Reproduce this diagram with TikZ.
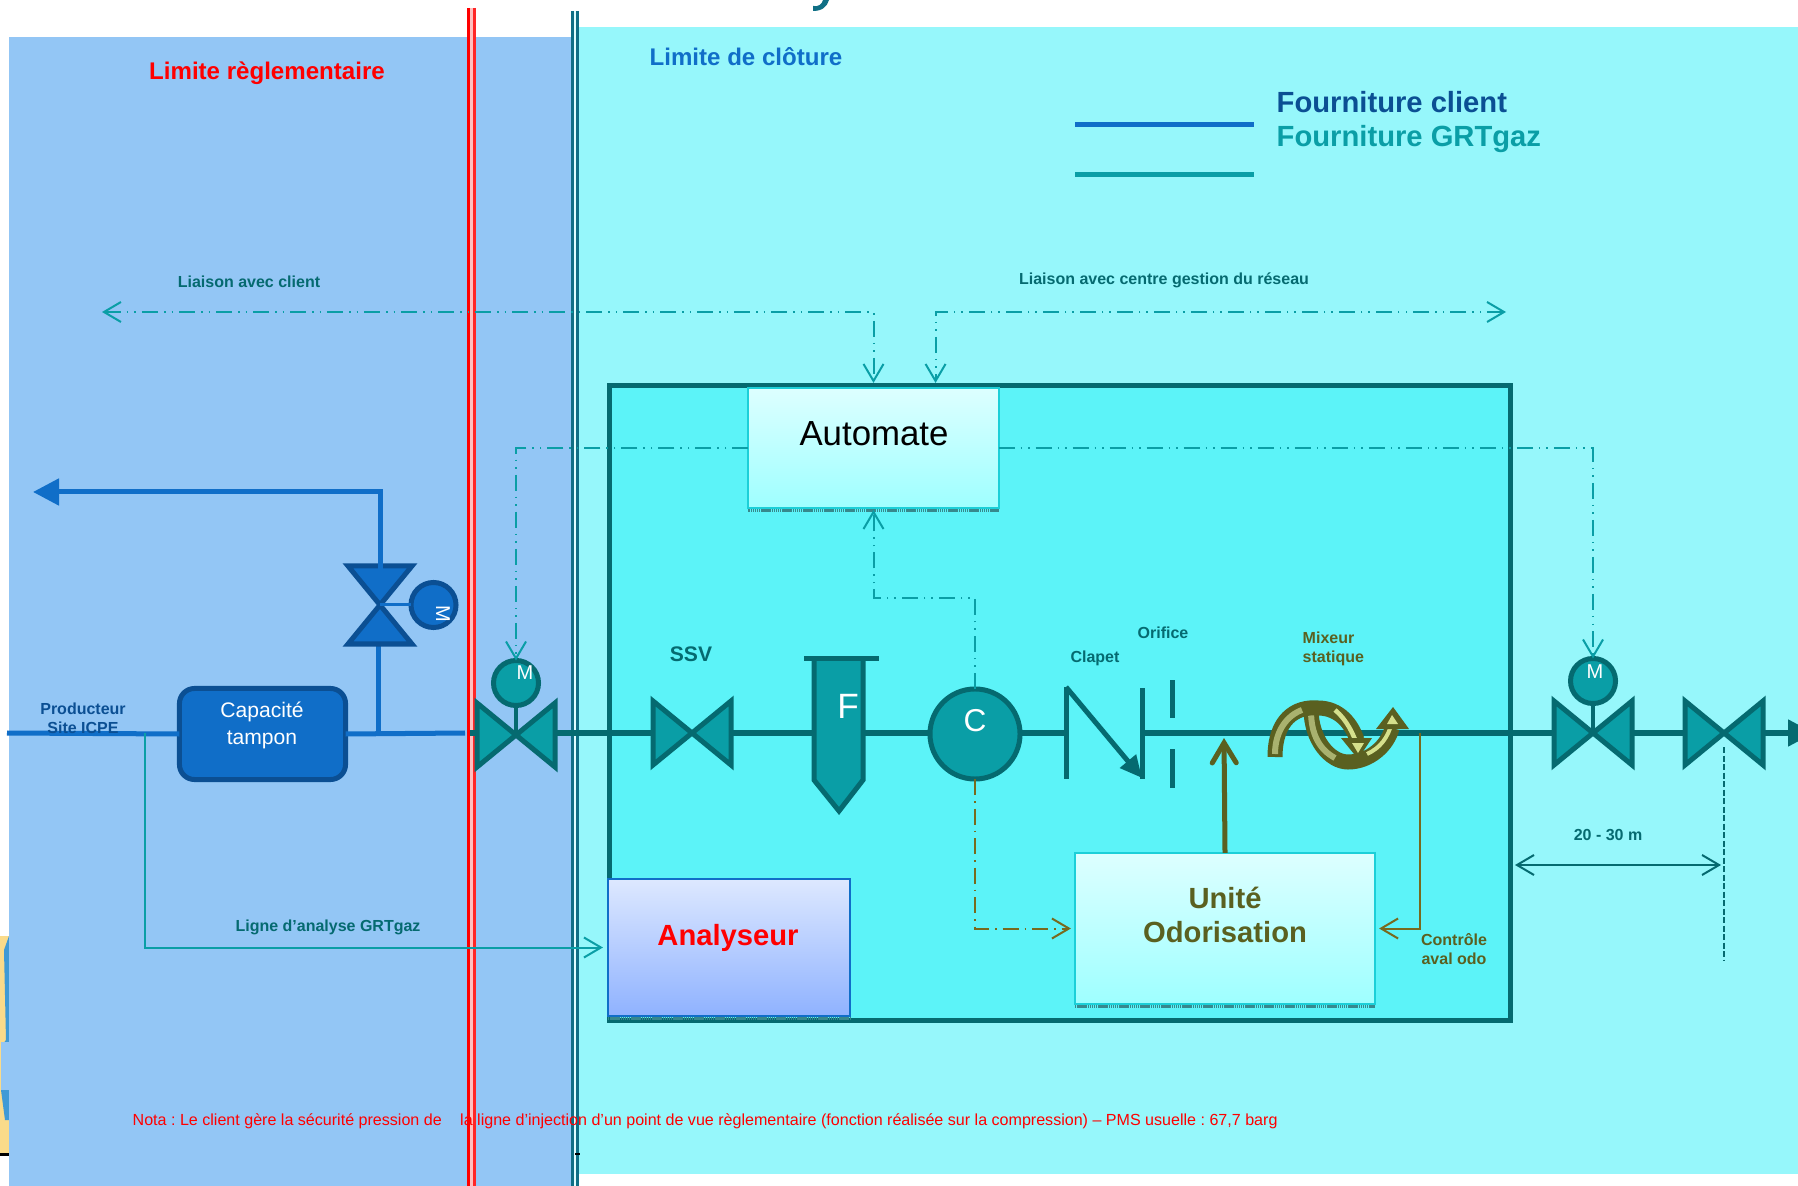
\documentclass[tikz,border=0pt]{standalone}
\usepackage{fontspec}
\setmainfont{Liberation Sans}
\usetikzlibrary{arrows.meta}
\definecolor{cyanlight}{HTML}{96F7FB}
\definecolor{cyanbox}{HTML}{5CF3F8}
\definecolor{cyanedge}{HTML}{1CCFD8}
\definecolor{paneltop}{HTML}{DDFFFF}
\definecolor{panelbot}{HTML}{9EFFFF}
\definecolor{analysetop}{HTML}{DDE8FF}
\definecolor{analysebot}{HTML}{8FB2FF}
\definecolor{bluezone}{HTML}{93C6F5}
\definecolor{blueline}{HTML}{106EC8}
\definecolor{bluedark}{HTML}{0B4F93}
\definecolor{tealfill}{HTML}{0A9EA6}
\definecolor{tealdark}{HTML}{056A70}
\definecolor{fenceline}{HTML}{0F6F85}
\definecolor{olivedark}{HTML}{5A6020}
\definecolor{oliveline}{HTML}{786A1E}
\definecolor{mixdull}{HTML}{A9B26F}
\definecolor{mixlight}{HTML}{D5E08C}
\definecolor{photosand}{HTML}{FADB8A}
\definecolor{photosea}{HTML}{3F9AD6}
\frenchspacing
\begin{document}
\begin{tikzpicture}[x=0.01cm,y=-0.01cm,
  barb/.tip={Straight Barb[length=0.17cm,width=0.2cm]},
  pipe/.style={draw=tealdark,line width=0.05cm},
  bluepipe/.style={draw=blueline,line width=0.05cm},
  ctl/.style={draw=tealfill,line width=0.02cm,dash pattern=on 0.16cm off 0.06cm on 0.015cm off 0.06cm on 0.015cm off 0.06cm,-barb},
  ctlolive/.style={draw=oliveline,line width=0.02cm,dash pattern=on 0.16cm off 0.06cm on 0.015cm off 0.06cm,-barb},
  motor/.style={circle,draw=tealdark,fill=tealfill,line width=0.05cm,minimum size=0.45cm,inner sep=0pt,outer sep=0pt},
  lbl/.style={font=\bfseries\fontsize{4.55}{5.3}\selectfont,text=tealdark,inner sep=0pt},
  lblolive/.style={font=\bfseries\fontsize{4.55}{5.6}\selectfont,text=olivedark,inner sep=0pt},
  whitetxt/.style={text=white,inner sep=0pt},
  panel/.style={rectangle,draw=cyanedge,line width=0.02cm,top color=paneltop,bottom color=panelbot,inner sep=0pt,outer sep=0pt},
  stipple/.style={draw=tealdark!80!white,line width=0.035cm,dash pattern=on 0.015cm off 0.006cm},
  valve/.pic={
    \path[pic actions,line width=0.05cm,line join=miter,miter limit=6] (-39,-32) -- (0,0) -- (-39,32) -- cycle;
    \path[pic actions,line width=0.05cm,line join=miter,miter limit=6] (39,-32) -- (0,0) -- (39,32) -- cycle;
  }]
\clip (0,0) rectangle (1798,1186);
\fill[white] (0,0) rectangle (1798,1186);
%
\fill[photosand] (0,936) rectangle (9,1154);
\fill[photosea] (9,936) -- (4,950) -- (6,1040) -- (2,1045) -- (1,1090) -- (5,1120) -- (9,1120) -- cycle;
\fill[bluezone] (1,1042) -- (9,1042) -- (9,1090) -- (1,1090) -- cycle;
\draw[black,line width=0.03cm] (0,1154) -- (9,1154);
\fill[fenceline] (823,0) -- (829,0) .. controls (827,7) and (822,11) .. (813,11) -- (813,6) .. controls (819,7) and (822,4) .. (823,0) -- cycle;
%
\fill[cyanlight] (579,27) rectangle (1798,1174);
\fill[bluezone] (9,37) rectangle (575,1186);
%
\draw[red,line width=0.03cm] (468.5,8) -- (468.5,1186);
\draw[red!25!white,line width=0.03cm] (471.5,8) -- (471.5,1186);
\draw[red!85!white,line width=0.03cm] (474.5,8) -- (474.5,1186);
\fill[photosand] (574.5,1135) rectangle (576,1153);
\draw[fenceline,line width=0.03cm] (572.5,11) -- (572.5,1186);
\draw[white!70!cyanlight,line width=0.02cm] (575,11) -- (575,1186);
\draw[fenceline,line width=0.03cm] (577.5,11) -- (577.5,1186);
\draw[black,line width=0.02cm] (575,1154) -- (580,1154);
%
\node (cloture) at (746,57) [font=\bfseries\fontsize{6.85}{8}\selectfont,text=blueline,inner sep=0pt] {Limite de clôture};
\node (reglement) at (267,73) [font=\bfseries\fontsize{6.85}{8}\selectfont,text=red,inner sep=0pt] {Limite règlementaire};
\node (legclient) at (1276,102) [anchor=west,font=\bfseries\fontsize{8.3}{10}\selectfont,text=bluedark,inner sep=0pt] {Fourniture client};
\node (leggrt) at (1276,139) [anchor=west,font=\bfseries\fontsize{8.3}{10}\selectfont,text=tealfill,inner sep=0pt] {Fourniture GRTgaz};
\draw[bluepipe] (1075,125) -- (1254,125);
\draw[draw=tealfill,line width=0.05cm] (1075,175) -- (1254,175);
%
\node (liaisonclient) at (249,282) [lbl] {Liaison avec client};
\node (liaisonreseau) at (1164,280) [lbl] {Liaison avec centre gestion du réseau};
%
\node (armoire) at (1060,703) [rectangle,draw=tealdark,fill=cyanbox,line width=0.05cm,minimum width=9cm,minimum height=6.35cm,inner sep=0pt,outer sep=0pt] {};
\node (automate) at (873.5,448) [panel,minimum width=2.5cm,minimum height=1.2cm] {};
\node (unite) at (1225,928.5) [panel,minimum width=3cm,minimum height=1.51cm] {};
\node (analyseur) at (729,947.5) [rectangle,draw=blueline,line width=0.02cm,top color=analysetop,bottom color=analysebot,minimum width=2.42cm,minimum height=1.37cm,inner sep=0pt,outer sep=0pt] {};
\draw[stipple] ([yshift=-0.025cm]automate.south west) -- ([yshift=-0.025cm]automate.south east);
\draw[stipple] ([yshift=-0.025cm]unite.south west) -- ([yshift=-0.025cm]unite.south east);
\draw[stipple] ([yshift=-0.025cm]analyseur.south west) -- ([yshift=-0.025cm]analyseur.south east);
\node (automatetxt) at (874,434) [inner sep=0pt,font=\fontsize{9.9}{12}\selectfont] {Automate};
\node (unitetxt) at (1225,915) [inner sep=0pt,align=center,text=olivedark,font=\bfseries\fontsize{8.3}{9.9}\selectfont] {Unité\\Odorisation};
\node (analyseurtxt) at (728,938) [inner sep=0pt,text=red,font=\bfseries\fontsize{8.3}{10}\selectfont] {Analyseur};
%
\coordinate (entree) at (7,733);
\coordinate (prelev) at (378,733);
\coordinate (analyse) at (145,733);
\coordinate (vanneM) at (516,735);
\coordinate (ssv) at (692,733);
\coordinate (clapetA) at (1066,733);
\coordinate (clapetB) at (1142,733);
\coordinate (controle) at (1420,733);
\coordinate (vanneS) at (1593,733);
\coordinate (vanneF) at (1724,733);
\coordinate (sortie) at (1814,733);
\coordinate (vanneB) at (380,605);
\coordinate (depart) at (33,492);
\coordinate (coude) at (380,492);
%
\node (capacite) at (262.5,734) [rectangle,rounded corners=0.15cm,draw=bluedark,fill=blueline,line width=0.05cm,minimum width=1.66cm,minimum height=0.91cm,inner sep=0pt,outer sep=0pt] {};
\draw[bluepipe] (entree) -- (capacite.west);
\draw[bluepipe] (capacite.east) -- (465,733);
\draw[bluepipe] (prelev) -- (378,643);
\draw[pipe] (470,733) -- (clapetA);
\draw[pipe] (clapetB) -- (vanneF);
\draw[pipe,-{Triangle[length=0.26cm,width=0.26cm]}] (vanneF) -- (sortie);
\node (capacitetxt) at (262,725) [whitetxt,align=center,font=\fontsize{6}{7.7}\selectfont] {Capacité\\tampon};
\node (producteur) at (83,718) [lbl,align=center,text=bluedark] {Producteur\\Site ICPE};
%
\pic [draw=bluedark,fill=blueline,rotate=90] at (vanneB) {valve};
\draw[bluepipe,-{Triangle[length=0.26cm,width=0.26cm]}] (380,583) -- (coude) -- (depart);
\node (moteurB) at (433.5,605) [motor,draw=bluedark,fill=blueline] {};
\draw[draw=blueline,line width=0.03cm] (vanneB) -- (moteurB.west);
\node (moteurBtxt) at (443,614) [whitetxt,rotate=-90,font=\fontsize{5.7}{7}\selectfont] {M};
%
\pic [draw=tealdark,fill=tealfill] at (vanneM) {valve};
\node (moteurM) at (516,683) [motor] {};
\draw[draw=tealdark,line width=0.035cm] (vanneM) -- (moteurM.south);
\node (moteurMtxt) at (525,673) [whitetxt,font=\fontsize{5.7}{7}\selectfont] {M};
%
\pic [draw=tealdark,fill=tealfill] at (ssv) {valve};
\node (ssvtxt) at (691,654) [lbl,font=\bfseries\fontsize{6}{7}\selectfont] {SSV};
%
\draw[pipe,fill=tealfill,line join=miter] (814,661) -- (814,780) -- (839,811) -- (863,780) -- (863,661);
\fill[tealdark] (804,656) rectangle (879,661);
\node (filtretxt) at (848,706) [whitetxt,font=\fontsize{10}{12}\selectfont] {F};
%
\node (compteur) at (975,734) [motor,minimum size=0.9cm] {};
\node (compteurtxt) at (975,721) [whitetxt,font=\fontsize{9}{11}\selectfont] {C};
%
\draw[pipe] (1066,687) -- (1066,779);
\draw[pipe] (1142,688) -- (1142,779);
\draw[pipe,-{Triangle[length=0.22cm,width=0.2cm]}] (1066,687) -- (1142,778);
\node (clapettxt) at (1095,658) [lbl] {Clapet};
%
\draw[pipe] (1172,680) -- (1172,718);
\draw[pipe] (1172,749) -- (1172,788);
\node (orificetxt) at (1163,633) [lbl] {Orifice};
%
\draw[draw=olivedark,line width=0.05cm,-{Straight Barb[length=0.2cm,width=0.24cm,line cap=round]}] (unite.north) -- (1224,738);
%
\draw[draw=olivedark,line width=0.15cm] (1311,709) .. controls (1311,740) and (1330,762) .. (1348,762) .. controls (1370,762) and (1388,745) .. (1392,728);
\draw[draw=mixdull,line width=0.06cm] (1311,711) .. controls (1311,735) and (1320,750) .. (1335,758);
\draw[draw=mixlight,line width=0.04cm] (1367,754) .. controls (1380,748) and (1388,738) .. (1392,722);
\fill[olivedark] (1376,729) -- (1393,707) -- (1409,729) -- cycle;
\draw[draw=olivedark,line width=0.15cm] (1275,757) .. controls (1275,720) and (1295,706) .. (1318,708) .. controls (1340,708) and (1352,725) .. (1357,740);
\draw[draw=mixdull,line width=0.06cm] (1275,754) .. controls (1275,730) and (1288,715) .. (1302,710);
\draw[draw=mixlight,line width=0.045cm] (1335,710) .. controls (1347,720) and (1354,735) .. (1358,748);
\fill[olivedark] (1341,738) -- (1372,738) -- (1358,759) -- cycle;
\fill[mixlight] (1352,743) -- (1364,743) -- (1358,753) -- cycle;
\fill[mixlight] (1387,724) -- (1392,715) -- (1398,724) -- cycle;
\node (mixeurtxt) at (1302,649) [lblolive,anchor=west,align=left] {Mixeur\\statique};
%
\draw[draw=oliveline,line width=0.02cm,shorten >=0.04cm,-barb] (controle) |- (unite.east);
\node (controletxt) at (1454,949) [lblolive,align=center] {Contrôle\\aval odo};
%
\pic [draw=tealdark,fill=tealfill] at (vanneS) {valve};
\node (moteurS) at (1593,681) [motor] {};
\draw[draw=tealdark,line width=0.035cm] (vanneS) -- (moteurS.south);
\node (moteurStxt) at (1595,672) [whitetxt,font=\fontsize{5.7}{7}\selectfont] {M};
%
\pic [draw=tealdark,fill=tealfill] at (vanneF) {valve};
\draw[draw=tealdark,line width=0.02cm,dash pattern=on 0.06cm off 0.025cm] (1724,747) -- (1724,960) coordinate (finrepere);
%
\coordinate (repereA) at (1515,865);
\coordinate (repereB) at (1721,865);
\draw[draw=tealdark,line width=0.02cm,barb-barb] (repereA) -- (repereB);
\node (reperetxt) at (1608,835) [lbl] {20 - 30 m};
%
\draw[draw=tealfill,line width=0.02cm,shorten >=0.05cm,-barb] (analyse) |- (analyseur.west);
\node (analysetxt) at (328,927) [lbl] {Ligne d'analyse GRTgaz};
%
\coordinate (client) at (102,312);
\coordinate (reseau) at (1506,312);
\draw[ctl,barb-barb,shorten >=0.05cm] (client) -| (automate.north);
\draw[ctl,barb-barb,shorten >=0.05cm] (reseau) -| ([xshift=0.62cm]automate.north);
\draw[ctl] (automate.west) -| (moteurM.north);
\draw[ctl] (automate.east) -| (moteurS.north);
\coordinate (retour) at (975,598);
\draw[ctl,shorten >=0.02cm] (compteur.north) -- (retour) -| (automate.south);
\draw[ctlolive,shorten >=0.04cm] (compteur.south) |- (unite.west);
%
\node (nota) at (132,1121) [anchor=west,inner sep=0pt,text=red,font=\fontsize{4.57}{5.5}\selectfont] {Nota : Le client gère la sécurité pression de\hspace*{0.14cm} la ligne d’injection d’un point de vue règlementaire (fonction réalisée sur la compression) – PMS usuelle : 67,7 barg};
\end{tikzpicture}
\end{document}
